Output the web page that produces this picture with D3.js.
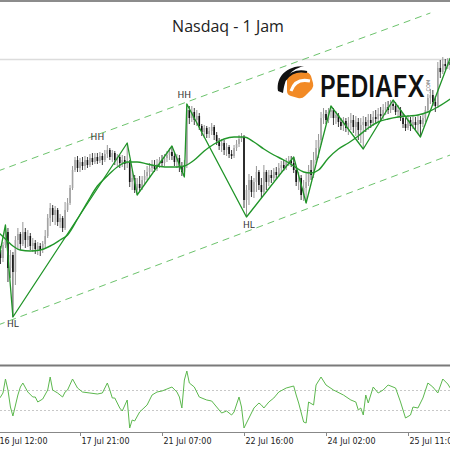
<!doctype html>
<html>
<head>
<title>Nasdaq - 1 Jam</title>
<script src="https://d3js.org/d3.v7.min.js"></script>
</head>
<style>
  body {
    margin: 0;
    background: #fff;
  }
  svg {
    display: block;
  }
  .axis path, .axis line {
    stroke: #888;
    shape-rendering: crispEdges;
  }
  .axis text {
    font: 8px "DejaVu Sans", sans-serif;
    fill: #222;
  }
</style>
<body>
<script>

// H1 candles, one per bar index
var opens = [22890, 22900, 22884, 22910, 22936, 22864, 22890, 22856, 22920, 22932,
  22912, 22936, 22920, 22928, 22908, 22914, 22902, 22908, 22900, 22912,
  22928, 22964, 22984, 22970, 22980, 22956, 22964, 22944, 22980, 22994,
  23024, 23060, 23080, 23064, 23076, 23068, 23080, 23070, 23084, 23076,
  23086, 23078, 23088, 23080, 23092, 23100, 23086, 23094, 23080, 23086,
  23074, 23080, 23072, 23076, 23036, 23044, 23020, 23032, 23024, 23040,
  23048, 23056, 23064, 23070, 23062, 23072, 23080, 23074, 23084, 23090,
  23096, 23088, 23076, 23084, 23066, 23056, 23070, 23180, 23164, 23176,
  23160, 23168, 23148, 23136, 23144, 23132, 23138, 23146, 23130, 23118,
  23108, 23114, 23100, 23106, 23092, 23088, 23104, 23112, 23122, 23126,
  23000, 23020, 23040, 23016, 23036, 23056, 23030, 23016, 23056, 23036,
  23050, 23044, 23056, 23050, 23064, 23070, 23064, 23076, 23080, 23074,
  23060, 23036, 23044, 23010, 23024, 23036, 23060, 23050, 23080, 23104,
  23120, 23164, 23172, 23160, 23176, 23180, 23164, 23170, 23156, 23148,
  23158, 23144, 23154, 23160, 23146, 23156, 23140, 23150, 23156, 23148,
  23160, 23154, 23166, 23162, 23172, 23168, 23180, 23186, 23180, 23192,
  23188, 23176, 23180, 23164, 23152, 23144, 23160, 23148, 23156, 23150,
  23160, 23152, 23164, 23180, 23204, 23210, 23196, 23188, 23264, 23256,
  23272, 23268, 23276];

var highs = [22904, 22908, 22916, 22950, 22944, 22900, 22896, 22928, 22944, 22936,
  22956, 22944, 22940, 22934, 22924, 22920, 22916, 22914, 22918, 22940,
  22972, 22994, 22990, 22988, 22984, 22972, 22968, 22996, 23004, 23030,
  23068, 23086, 23088, 23084, 23086, 23088, 23086, 23092, 23094, 23094,
  23094, 23096, 23094, 23100, 23110, 23104, 23100, 23098, 23092, 23090,
  23090, 23088, 23114, 23080, 23060, 23050, 23044, 23048, 23048, 23060,
  23068, 23074, 23080, 23080, 23082, 23086, 23090, 23092, 23098, 23104,
  23108, 23096, 23092, 23090, 23076, 23080, 23192, 23188, 23188, 23184,
  23180, 23174, 23152, 23150, 23148, 23146, 23154, 23150, 23136, 23124,
  23122, 23120, 23114, 23110, 23100, 23110, 23120, 23130, 23134, 23130,
  23030, 23052, 23048, 23044, 23068, 23060, 23044, 23070, 23060, 23060,
  23060, 23064, 23066, 23074, 23078, 23080, 23084, 23088, 23088, 23086,
  23068, 23056, 23050, 23040, 23056, 23070, 23080, 23096, 23120, 23132,
  23176, 23184, 23180, 23184, 23188, 23184, 23178, 23174, 23164, 23166,
  23164, 23166, 23174, 23170, 23168, 23164, 23164, 23168, 23166, 23172,
  23172, 23178, 23180, 23184, 23186, 23192, 23196, 23198, 23200, 23200,
  23196, 23190, 23186, 23172, 23164, 23170, 23166, 23168, 23166, 23170,
  23168, 23172, 23188, 23212, 23222, 23220, 23208, 23276, 23280, 23286,
  23282, 23284, 23284];

var lows = [22876, 22872, 22876, 22904, 22836, 22844, 22766, 22830, 22900, 22900,
  22908, 22904, 22906, 22900, 22896, 22892, 22890, 22888, 22894, 22904,
  22924, 22948, 22956, 22950, 22948, 22944, 22936, 22940, 22976, 22990,
  23020, 23056, 23056, 23056, 23060, 23060, 23064, 23066, 23070, 23072,
  23072, 23074, 23070, 23076, 23084, 23080, 23076, 23070, 23068, 23064,
  23066, 23060, 23064, 23026, 23020, 23014, 23010, 23016, 23020, 23030,
  23040, 23044, 23056, 23056, 23058, 23064, 23066, 23068, 23076, 23080,
  23080, 23068, 23064, 23056, 23048, 23046, 23064, 23152, 23156, 23150,
  23148, 23140, 23128, 23124, 23124, 23124, 23130, 23120, 23110, 23100,
  23096, 23090, 23088, 23084, 23082, 23084, 23098, 23106, 23116, 22984,
  22966, 22990, 23006, 23004, 23016, 23020, 23004, 23010, 23020, 23028,
  23034, 23038, 23042, 23046, 23056, 23058, 23060, 23068, 23066, 23054,
  23028, 23020, 23000, 22998, 22994, 23028, 23040, 23044, 23074, 23084,
  23110, 23152, 23152, 23154, 23164, 23150, 23152, 23146, 23140, 23138,
  23136, 23130, 23140, 23134, 23128, 23120, 23114, 23102, 23136, 23140,
  23144, 23148, 23152, 23156, 23158, 23162, 23170, 23172, 23174, 23180,
  23170, 23164, 23158, 23144, 23138, 23140, 23138, 23142, 23140, 23132,
  23126, 23146, 23156, 23174, 23192, 23188, 23176, 23184, 23244, 23252,
  23260, 23262, 23260];

var closes = [22900, 22884, 22910, 22936, 22864, 22890, 22856, 22920, 22932, 22912,
  22936, 22920, 22928, 22908, 22914, 22902, 22908, 22900, 22912, 22928,
  22964, 22984, 22970, 22980, 22956, 22964, 22944, 22980, 22994, 23024,
  23060, 23080, 23064, 23076, 23068, 23080, 23070, 23084, 23076, 23086,
  23078, 23088, 23080, 23092, 23100, 23086, 23094, 23080, 23086, 23074,
  23080, 23072, 23076, 23036, 23044, 23020, 23032, 23024, 23040, 23048,
  23056, 23064, 23070, 23062, 23072, 23080, 23074, 23084, 23090, 23096,
  23088, 23076, 23084, 23066, 23056, 23070, 23180, 23164, 23176, 23160,
  23168, 23148, 23136, 23144, 23132, 23138, 23146, 23130, 23118, 23108,
  23114, 23100, 23106, 23092, 23088, 23104, 23112, 23122, 23126, 23000,
  23020, 23040, 23016, 23036, 23056, 23030, 23016, 23056, 23036, 23050,
  23044, 23056, 23050, 23064, 23070, 23064, 23076, 23080, 23074, 23060,
  23036, 23044, 23010, 23024, 23036, 23060, 23050, 23080, 23104, 23120,
  23164, 23172, 23160, 23176, 23180, 23164, 23170, 23156, 23148, 23158,
  23144, 23154, 23160, 23146, 23156, 23140, 23150, 23156, 23148, 23160,
  23154, 23166, 23162, 23172, 23168, 23180, 23186, 23180, 23192, 23188,
  23176, 23180, 23164, 23152, 23144, 23160, 23148, 23156, 23150, 23160,
  23152, 23164, 23180, 23204, 23210, 23196, 23188, 23264, 23256, 23272,
  23268, 23276, 23270];

// moving average
var maBars = [0, 3, 6, 9, 13, 17, 21, 25, 28, 32, 36, 40, 44, 48, 52, 56, 60, 64, 68, 72, 75, 79, 83, 87, 91, 95, 99,
  103, 107, 111, 115, 119, 123, 126, 129, 133, 137, 141, 145, 149, 153, 157, 161, 165, 169, 173, 177, 182];
var maValues = [22936, 22922, 22908, 22900, 22898, 22900, 22908, 22920, 22930, 22962, 22996, 23028, 23048, 23066,
  23076, 23076, 23072, 23068, 23066, 23066, 23068, 23080, 23098, 23112, 23122, 23126, 23126, 23116, 23102, 23090,
  23080, 23068, 23056, 23054, 23060, 23084, 23102, 23114, 23128, 23144, 23156, 23162, 23166, 23168, 23170, 23176,
  23186, 23202];

// zigzag swing points
var zzBars = [0, 3, 6, 52, 56, 70, 75, 76, 100, 119, 124, 134, 147, 159, 170, 182];
var zzValues = [22876, 22950, 22766, 23114, 23010, 23108, 23046, 23192, 22966, 23086, 22994, 23188, 23102, 23200, 23126, 23284];

// channel lines
var upperBars = [0, 174];
var upperValues = [23058, 23374];
var lowerBars = [0, 182];
var lowerValues = [22750, 23090];

var swingLabels = ["HL", "HH", "HH", "HL"];
var swingBars = [6, 40, 75, 101];
var swingValues = [22752, 23126, 23210, 22950];

// oscillator
var oscBars = [0, 1, 2, 3, 4, 5, 6, 8, 9, 10, 12, 14, 15, 16, 18, 20, 21, 22, 24, 26, 27, 28, 30, 32, 34, 37, 40, 42,
  44, 45, 46, 47, 49, 50, 52, 53, 54, 55, 57, 60, 62, 64, 66, 68, 70, 72, 73, 74, 75, 76, 77, 79, 81, 84, 86, 88, 90,
  92, 94, 95, 97, 98, 99, 101, 103, 105, 106, 107, 109, 111, 113, 116, 119, 120, 121, 123, 124, 125, 127, 128, 130,
  132, 135, 139, 142, 144, 145, 146, 147, 148, 149, 151, 153, 155, 157, 160, 162, 164, 166, 167, 169, 171, 173, 175,
  177, 179, 181, 182];
var oscValues = [0, 30, 70, 210, 100, -70, -160, 50, 130, 170, 80, 30, 30, -20, 10, 100, 230, 100, 70, 30, 80, 100,
  210, 120, 80, 70, 60, 70, 170, 100, 20, 20, -80, -110, 0, -280, -200, -210, -120, -50, 50, 80, 90, 110, 130, 80, 30,
  -80, 200, 290, 170, 130, 30, 0, -10, -70, -130, -110, -150, -120, 30, -70, -280, -180, -80, -30, -50, -80, -20, 20,
  80, 120, 140, 50, -30, -220, -230, -20, -50, 150, 230, 150, 100, 50, 0, -20, -100, -80, -150, 50, -30, 130, 70, 100,
  150, 120, -20, -180, -150, -70, -80, 20, 170, 130, 70, 210, 160, 120];
var oscLevels = [100, -100];

var tickBars = [0, 33, 66, 99, 132, 165];
var tickLabels = ["16 Jul 12:00", "17 Jul 21:00", "21 Jul 07:00", "22 Jul 16:00", "24 Jul 02:00", "25 Jul 11:00"];

var width = 450, height = 450;

var svg = d3.select("body").append("svg").attr("width", width).attr("height", height);

var xscale = d3.scaleLinear().domain([0, 33]).range([-2, 80]);
var yscale = d3.scaleLinear().domain([22700, 23400]).range([350, 0]);
var oscscale = d3.scaleLinear().domain([-320, 330]).range([432, 367]);

var candles = closes.map(function(c, i) {
  return {i: i, o: opens[i], h: highs[i], l: lows[i], c: c};
});

svg.append("defs").append("clipPath").attr("id", "mainclip")
  .append("rect").attr("x", 0).attr("y", 2).attr("width", width).attr("height", 362);
svg.select("defs").append("clipPath").attr("id", "oscclip")
  .append("rect").attr("x", 0).attr("y", 367).attr("width", width).attr("height", 65);

// frame lines
svg.append("line").attr("x1", 0).attr("x2", width).attr("y1", 1).attr("y2", 1)
  .attr("stroke", "#666").attr("stroke-width", 1.5);
svg.append("line").attr("x1", 0).attr("x2", width).attr("y1", 59.5).attr("y2", 59.5)
  .attr("stroke", "#dcdcdc").attr("stroke-width", 1.5);

svg.append("text").attr("x", 228).attr("y", 32).attr("text-anchor", "middle")
  .style("font", "16px 'Open Sans', sans-serif").attr("fill", "#222").text("Nasdaq - 1 Jam");

var main = svg.append("g").attr("clip-path", "url(#mainclip)");

var straight = d3.line().x(function(d) { return xscale(d[0]); }).y(function(d) { return yscale(d[1]); });

main.append("path").datum(d3.zip(upperBars, upperValues)).attr("d", straight)
  .attr("fill", "none").attr("stroke", "#6cc36c").attr("stroke-width", 1).attr("stroke-dasharray", "7,5");
main.append("path").datum(d3.zip(lowerBars, lowerValues)).attr("d", straight)
  .attr("fill", "none").attr("stroke", "#6cc36c").attr("stroke-width", 1).attr("stroke-dasharray", "7,5");

main.selectAll(".wick").data(candles).enter().append("line").attr("class", "wick")
  .attr("x1", function(d) { return xscale(d.i); }).attr("x2", function(d) { return xscale(d.i); })
  .attr("y1", function(d) { return yscale(d.h); }).attr("y2", function(d) { return yscale(d.l); })
  .attr("stroke", function(d) { return d.c >= d.o ? "#8a8a8a" : "#2a2a2a"; }).attr("stroke-width", 0.9);

main.selectAll(".body").data(candles).enter().append("rect").attr("class", "body")
  .attr("x", function(d) { return xscale(d.i) - 0.8; }).attr("width", 1.6)
  .attr("y", function(d) { return yscale(Math.max(d.o, d.c)); })
  .attr("height", function(d) { return Math.max(0.8, Math.abs(yscale(d.o) - yscale(d.c))); })
  .attr("fill", function(d) { return d.c >= d.o ? "#a4a4a4" : "#111"; });

var smooth = d3.line().curve(d3.curveMonotoneX)
  .x(function(d) { return xscale(d[0]); }).y(function(d) { return yscale(d[1]); });

main.append("path").datum(d3.zip(maBars, maValues)).attr("d", smooth)
  .attr("fill", "none").attr("stroke", "#22972a").attr("stroke-width", 1.4);

main.append("path").datum(d3.zip(zzBars, zzValues)).attr("d", straight)
  .attr("fill", "none").attr("stroke", "#1f9427").attr("stroke-width", 1.3).attr("stroke-linejoin", "round");

main.selectAll(".swing").data(swingLabels).enter().append("text").attr("class", "swing")
  .attr("x", function(d, i) { return xscale(swingBars[i]); })
  .attr("y", function(d, i) { return yscale(swingValues[i]); })
  .attr("text-anchor", "middle").attr("dominant-baseline", "central")
  .style("font", "9px 'DejaVu Sans', sans-serif").attr("fill", "#333").text(function(d) { return d; });

// logo
var logo = svg.append("g");
logo.append("path")
  .attr("d", "M292,73 L305,72 Q309,72 311,76 L313,83 Q314,86 312,89 L305,96 Q302,99 298,98 L291,96 Q287,95 287,91 L287,78 Q287,74 292,73 Z")
  .attr("fill", "#f28a25");
logo.append("path").attr("d", "M291,91 C294,82 301,79 310,81")
  .attr("fill", "none").attr("stroke", "#fff").attr("stroke-width", 3);
logo.append("path")
  .attr("d", "M278,91 C276,77 286,66 304,66 C296,68 290,72 287,78 C285,82 284,86 283,93 Z")
  .attr("fill", "#111");
logo.append("path").attr("d", "M285,80 C290,73 298,70 307,72")
  .attr("fill", "none").attr("stroke", "#111").attr("stroke-width", 2.2);
logo.append("text").attr("x", 320).attr("y", 97).attr("textLength", 105).attr("lengthAdjust", "spacingAndGlyphs")
  .style("font", "600 30px Inter, sans-serif").attr("fill", "#111").text("PEDIAFX");
logo.append("text").attr("transform", "translate(430,93) rotate(-90)")
  .style("font", "5px 'DejaVu Sans', sans-serif").attr("fill", "#555").text(".COM");

// oscillator panel
svg.append("line").attr("x1", 0).attr("x2", width).attr("y1", 365.5).attr("y2", 365.5)
  .attr("stroke", "#7a7a7a").attr("stroke-width", 2);

svg.selectAll(".level").data(oscLevels).enter().append("line").attr("class", "level")
  .attr("x1", 0).attr("x2", width)
  .attr("y1", function(d) { return Math.round(oscscale(d)) + 0.5; })
  .attr("y2", function(d) { return Math.round(oscscale(d)) + 0.5; })
  .attr("stroke", "#c8c8c8").attr("stroke-dasharray", "2,2");

var oscline = d3.line().x(function(d) { return xscale(d[0]); }).y(function(d) { return oscscale(d[1]); });

svg.append("g").attr("clip-path", "url(#oscclip)").append("path")
  .datum(d3.zip(oscBars, oscValues)).attr("d", oscline)
  .attr("fill", "none").attr("stroke", "#5cb84e").attr("stroke-width", 1);

var xaxis = d3.axisBottom(xscale).tickValues(tickBars)
  .tickFormat(function(d, i) { return tickLabels[i]; }).tickSize(3).tickPadding(3).tickSizeOuter(0);

var axis = svg.append("g").attr("class", "axis").attr("transform", "translate(0,432.5)").call(xaxis);
axis.select(".domain").attr("d", "M0,0H" + width);
axis.selectAll(".tick text").attr("text-anchor", "start").attr("dx", 1);

</script>
</body>
</html>
